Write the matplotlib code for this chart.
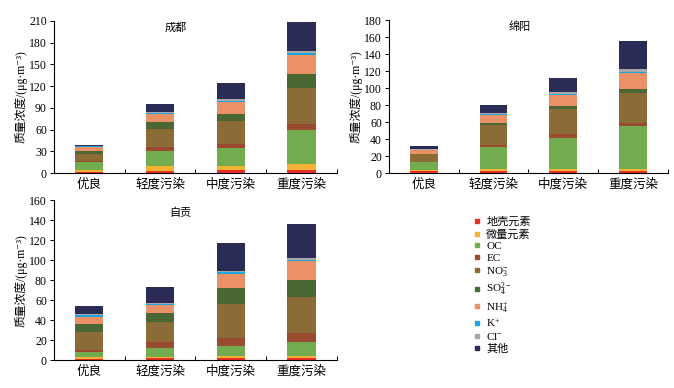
"""PM2.5 chemical composition by pollution level for three cities (stacked bars)."""
import numpy as np
import matplotlib
matplotlib.use("Agg")
import matplotlib.pyplot as plt
from matplotlib.lines import Line2D

plt.rcParams["font.family"] = ["Liberation Serif", "Noto Sans CJK SC", "DejaVu Serif"]
plt.rcParams["mathtext.fontset"] = "custom"
plt.rcParams["mathtext.rm"] = "Liberation Serif"
plt.rcParams["mathtext.it"] = "Liberation Serif:italic"
plt.rcParams["axes.unicode_minus"] = False

levels = ["优良", "轻度污染", "中度污染", "重度污染"]
components = ["地壳元素", "微量元素", "OC", "EC", r"NO$_3^{-}$", r"SO$_4^{2-}$",
              r"NH$_4^{+}$", r"K$^{+}$", r"Cl$^{-}$", "其他"]
colors = ["#e8302a", "#f4b234", "#72ac4f", "#9a4a2f", "#8b6c36", "#4a6833",
          "#ea9168", "#1ba6df", "#a8a8aa", "#2a2c55"]

# rows = components (same order as above), cols = levels
chengdu = [
    [2.0, 3.5, 4.0, 4.0],
    [2.5, 6.5, 6.0, 9.0],
    [10.5, 21.0, 25.0, 46.0],
    [1.5, 5.0, 5.0, 9.0],
    [9.5, 25.0, 32.0, 50.0],
    [5.0, 10.0, 10.0, 19.0],
    [5.0, 11.0, 16.0, 26.0],
    [1.0, 1.0, 2.0, 3.0],
    [0.5, 1.5, 2.0, 3.0],
    [1.5, 10.5, 23.0, 39.0],
]
mianyang = [
    [2.0, 3.0, 3.0, 3.0],
    [2.0, 2.0, 2.0, 2.0],
    [9.0, 26.0, 36.0, 50.0],
    [0.5, 2.0, 5.0, 4.0],
    [8.5, 23.0, 29.0, 35.0],
    [1.0, 2.5, 4.0, 5.0],
    [4.0, 9.5, 13.0, 19.0],
    [0.5, 1.5, 1.5, 1.5],
    [0.5, 1.5, 2.0, 3.5],
    [3.5, 9.0, 16.5, 32.0],
]
zigong = [
    [1.5, 2.0, 2.5, 2.5],
    [1.5, 1.5, 2.0, 2.0],
    [5.0, 9.0, 9.5, 13.5],
    [2.0, 5.5, 8.0, 9.0],
    [18.0, 20.5, 34.0, 36.0],
    [8.5, 9.0, 16.0, 17.5],
    [7.0, 8.0, 14.0, 18.5],
    [2.0, 1.0, 2.5, 1.5],
    [0.5, 1.0, 1.0, 1.5],
    [8.0, 15.5, 27.5, 34.0],
]

panels = [
    ("成都", chengdu, [0.080, 0.554, 0.420, 0.392], 210, 30, (0.43, 0.955)),
    ("绵阳", mianyang, [0.577, 0.554, 0.414, 0.394], 180, 20, (0.47, 0.955)),
    ("自贡", zigong, [0.080, 0.072, 0.420, 0.412], 160, 20, (0.445, 0.92)),
]

fig = plt.figure(figsize=(6.74, 3.88), dpi=100)
x = np.arange(len(levels))

for name, data, rect, ymax, step, tpos in panels:
    ax = fig.add_axes(rect)
    data = np.array(data)
    bottom = np.zeros(len(levels))
    for vals, c in zip(data, colors):
        ax.bar(x, vals, 0.4, bottom=bottom, color=c, edgecolor="none")
        bottom += vals
    ax.set_xlim(-0.5, 3.5)
    ax.set_ylim(0, ymax)
    ax.set_yticks(np.arange(0, ymax + 1, step))
    ax.set_xticks(x)
    ax.set_xticklabels(levels, fontsize=9)
    ax.set_xticks(x + 0.5, minor=True)
    ax.tick_params(axis="x", which="major", length=0, pad=4)
    ax.tick_params(axis="x", which="minor", direction="in", length=3, width=0.7)
    ax.tick_params(axis="y", direction="out", length=3, width=0.7, labelsize=8.5, pad=2)
    for s in ("top", "right"):
        ax.spines[s].set_visible(False)
    for s in ("left", "bottom"):
        ax.spines[s].set_linewidth(0.8)
    ax.set_ylabel("质量浓度/(μg·m\u207b\u00b3)", fontsize=8.5, labelpad=1)
    ax.text(tpos[0], tpos[1], name, transform=ax.transAxes, fontsize=8,
            ha="center", va="center")

handles = [Line2D([], [], marker="s", linestyle="none", color=c, markersize=3.5)
           for c in colors]
fig.legend(handles, components, loc="upper left", bbox_to_anchor=(0.695, 0.455),
           frameon=False, fontsize=8, handlelength=0.6, handletextpad=0.5,
           labelspacing=0.18, borderpad=0)

fig.savefig("out.png", dpi=100)
